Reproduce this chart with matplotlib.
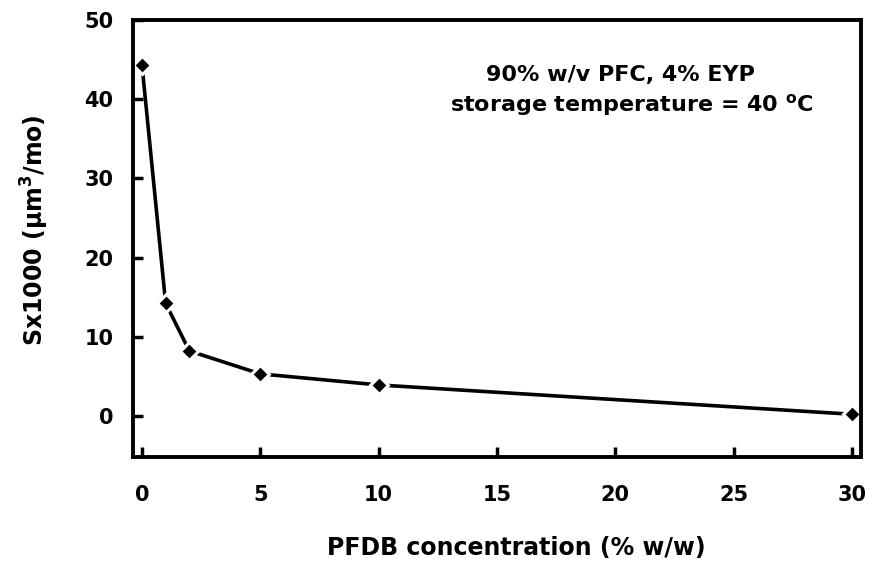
import matplotlib
matplotlib.use("Agg")
from matplotlib import pyplot as plt

plt.rcParams['font.family'] = ['DejaVu Sans']
plt.rcParams['font.weight'] = 'bold'
plt.rcParams['mathtext.fontset'] = 'dejavusans'

# data
conc = [0, 1, 2, 5, 10, 30]
sx1000 = [44.3, 14.2, 8.2, 5.3, 3.9, 0.2]
xticks = [0, 5, 10, 15, 20, 25, 30]
yticks = [0, 10, 20, 30, 40, 50]

fig = plt.figure(figsize=(8.69, 5.78), dpi=100)
ax = fig.add_axes([133/869, 1-457/578, (861-133)/869, (457-20)/578])

ax.plot(conc, sx1000, color='black', lw=2.6, marker='D', ms=9,
        mfc='black', mec='white', mew=2.2)

ax.set_xlim(-0.38, 30.38)
ax.set_ylim(-5.2, 50)
ax.set_xticks(xticks)
ax.set_yticks(yticks)
ax.tick_params(direction='in', length=7, width=2.5, labelsize=15, pad=20)
ax.tick_params(axis='y', pad=14)
for s in ax.spines.values():
    s.set_linewidth(2.8)

ax.set_xlabel("PFDB concentration (% w/w)", fontsize=17, fontweight='bold')
ax.xaxis.set_label_coords(0.526, -0.18)
ax.set_ylabel(r"Sx1000 ($\mathbf{\mu}$m$^\mathbf{3}$/mo)", fontsize=17, fontweight='bold')
ax.yaxis.set_label_coords(-0.112, 0.52)

ax.text(0.67, 0.875, "90% w/v PFC, 4% EYP", transform=ax.transAxes,
        ha='center', va='center', fontsize=16, fontweight='bold')
ax.text(0.685, 0.805, "storage temperature = 40 $^\\mathbf{o}$C", transform=ax.transAxes,
        ha='center', va='center', fontsize=16, fontweight='bold')

fig.savefig("out.png", dpi=100)
